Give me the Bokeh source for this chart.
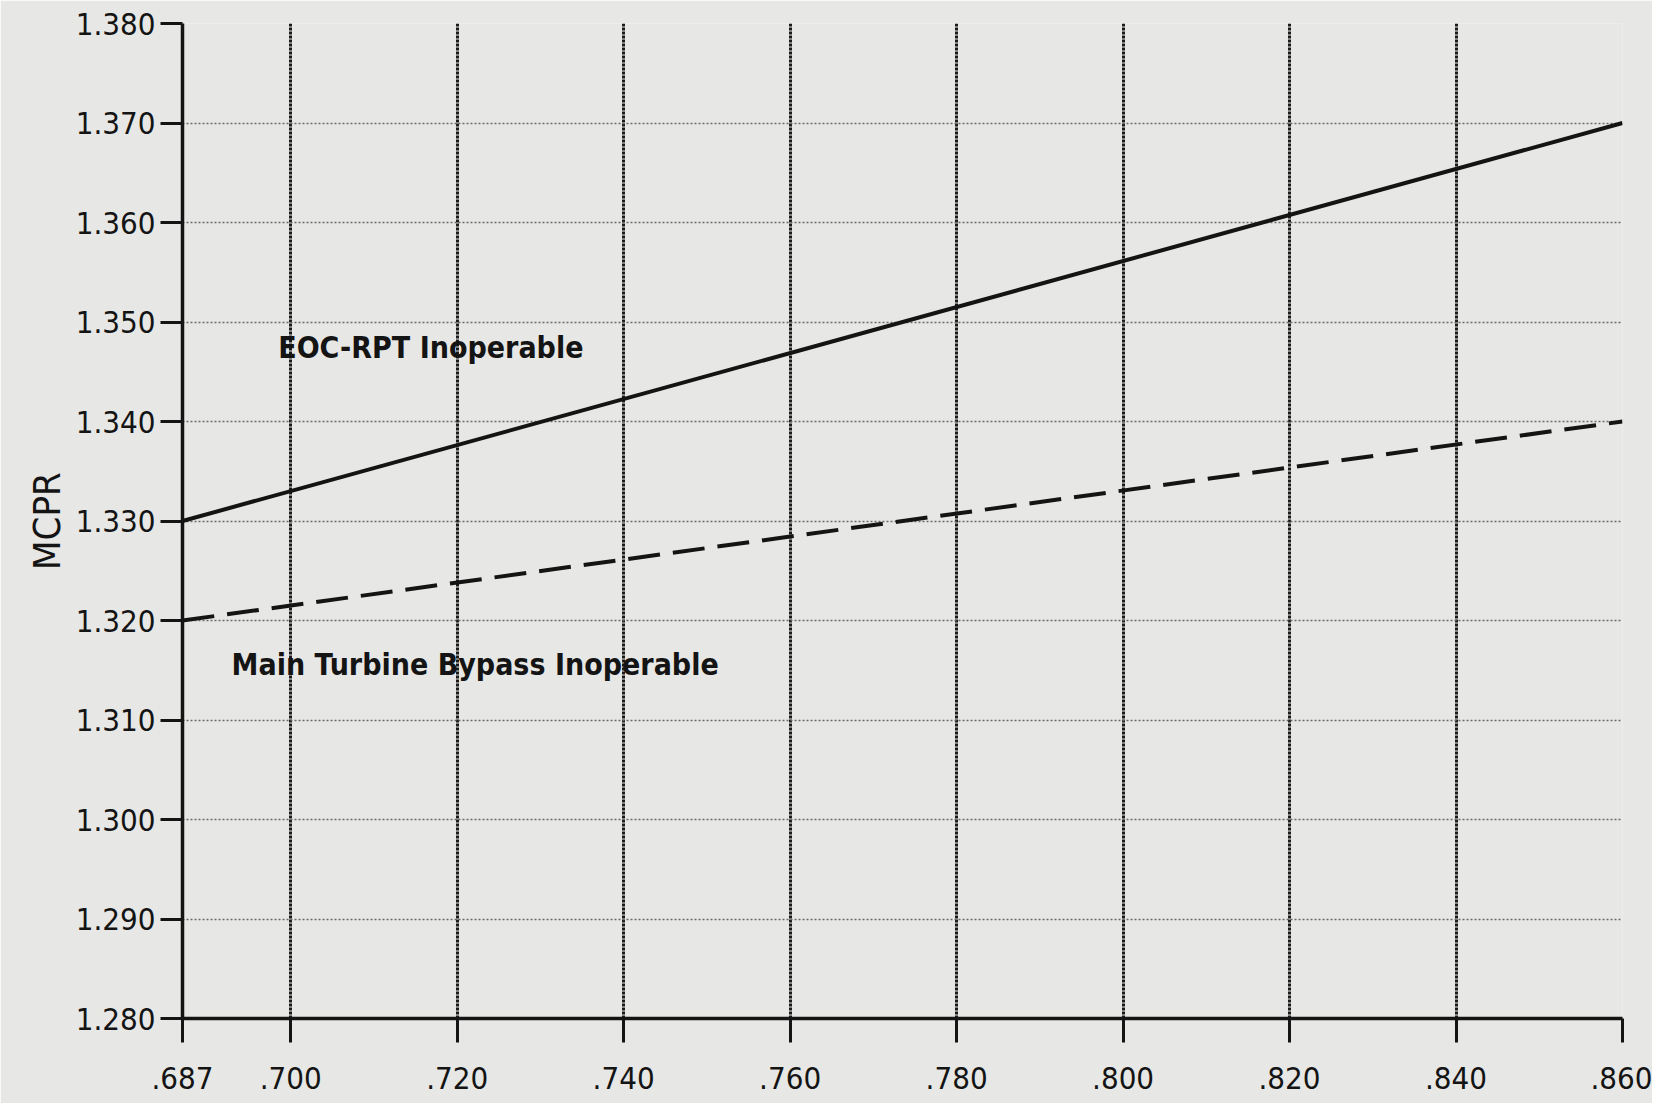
from bokeh.plotting import figure
from bokeh.models import FixedTicker, Label, Range1d
from bokeh.embed import file_html
from bokeh.resources import INLINE

# ---- data ----
x_ticks = [0.687, 0.700, 0.720, 0.740, 0.760, 0.780, 0.800, 0.820, 0.840, 0.860]
x_tick_labels = [".687", ".700", ".720", ".740", ".760", ".780", ".800", ".820", ".840", ".860"]
y_ticks = [1.280, 1.290, 1.300, 1.310, 1.320, 1.330, 1.340, 1.350, 1.360, 1.370, 1.380]
y_tick_labels = ["1.280", "1.290", "1.300", "1.310", "1.320", "1.330", "1.340", "1.350", "1.360", "1.370", "1.380"]

flow_fraction = [0.687, 0.860]
eoc_rpt_mcpr = [1.330, 1.370]
bypass_mcpr = [1.320, 1.340]

eoc_label = "EOC-RPT Inoperable"
bypass_label = "Main Turbine Bypass Inoperable"
y_axis_label = "MCPR"

BG = "#e7e7e5"
INK = "#141414"
FONT = "'DejaVu Sans Condensed', 'DejaVu Sans', sans-serif"

p = figure(width=1652, height=1103, output_backend="svg", toolbar_location=None,
           x_range=Range1d(x_ticks[0], x_ticks[-1]), y_range=Range1d(y_ticks[0], y_ticks[-1]),
           min_border_left=182, min_border_top=23, min_border_right=30, min_border_bottom=85)

p.background_fill_color = BG
p.border_fill_color = BG
p.outline_line_color = None

# grids
p.xgrid.ticker = FixedTicker(ticks=x_ticks[1:])
p.xgrid.grid_line_color = "#1a1a1a"
p.xgrid.grid_line_width = 3
p.xgrid.grid_line_dash = "3 1"
p.ygrid.ticker = FixedTicker(ticks=y_ticks)
p.ygrid.grid_line_color = "#6a6a6a"
p.ygrid.grid_line_width = 1.5
p.ygrid.grid_line_dash = "2 2"

# axes
p.xaxis.ticker = FixedTicker(ticks=x_ticks)
p.xaxis.major_label_overrides = {t: s for t, s in zip(x_ticks, x_tick_labels)}
p.yaxis.ticker = FixedTicker(ticks=y_ticks)
p.yaxis.major_label_overrides = {t: s for t, s in zip(y_ticks, y_tick_labels)}
p.yaxis.axis_label = y_axis_label

for ax in (p.xaxis[0], p.yaxis[0]):
    ax.axis_line_color = INK
    ax.axis_line_width = 3.5
    ax.major_tick_line_color = INK
    ax.major_tick_line_width = 3
    ax.minor_tick_line_color = None
    ax.major_tick_in = 0
    ax.major_label_text_font = FONT
    ax.major_label_text_font_size = "31px"
    ax.major_label_text_color = INK

p.xaxis.major_tick_out = 24
p.xaxis.major_label_standoff = 24
p.yaxis.major_tick_out = 22
p.yaxis.major_label_standoff = 5
p.yaxis.axis_label_text_font = FONT
p.yaxis.axis_label_text_font_size = "38px"
p.yaxis.axis_label_text_font_style = "normal"
p.yaxis.axis_label_text_color = INK
p.yaxis.axis_label_standoff = 4

# curves
p.line(flow_fraction, eoc_rpt_mcpr, line_color=INK, line_width=4)
p.line(flow_fraction, bypass_mcpr, line_color=INK, line_width=4, line_dash="32 13")

# annotations
p.add_layout(Label(x=0.6985, y=1.3474, text=eoc_label, text_font=FONT, text_font_size="30px",
                   text_font_style="bold", text_color=INK, text_baseline="middle"))
p.add_layout(Label(x=0.6929, y=1.3156, text=bypass_label, text_font=FONT, text_font_size="30px",
                   text_font_style="bold", text_color=INK, text_baseline="middle"))

open("out.html", "w").write(file_html(p, INLINE))
